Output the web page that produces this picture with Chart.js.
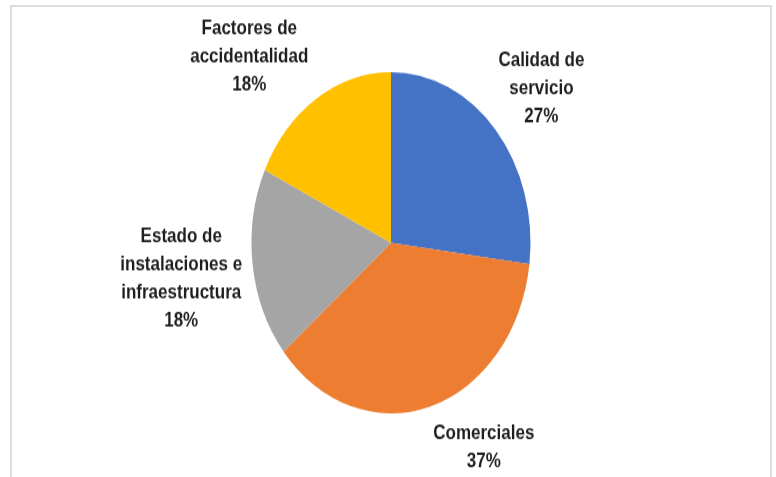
<!DOCTYPE html>
<html>
<head>
<meta charset="utf-8">
<script src="https://cdn.jsdelivr.net/npm/chart.js@4/dist/chart.umd.min.js"></script>
<style>
  html, body { margin: 0; padding: 0; background: #fff; }
  body { width: 776px; height: 477px; position: relative; overflow: hidden; }
  #frame { position: absolute; left: 10px; top: 5px; width: 762px; height: 474px; border: 2px solid #dcdcdc; box-sizing: border-box; }
  /* the source picture is stretched vertically, so the pie is an ellipse */
  #wrap { position: absolute; left: 0; top: 0; width: 776px; height: 390px; transform: scaleY(1.223); transform-origin: 0 0; }
</style>
</head>
<body>
<div id="frame"></div>
<div id="wrap"><canvas id="pie"></canvas></div>
<script>
const categories = [
  ['Calidad de', 'servicio'],
  ['Comerciales'],
  ['Estado de', 'instalaciones e', 'infraestructura'],
  ['Factores de', 'accidentalidad'],
];
const values = [27, 37, 18, 18];
const colors = ['#4472C4', '#ED7D31', '#A5A5A5', '#FFC000'];
// small manual shifts, like Excel labels dragged by hand
const labelNudge = [[6, -5], [37, 2], [-1, 5], [-30, 3]];

const LINE_H = 23;
const FONT = 'bold 17px "Liberation Sans Narrow", "Liberation Sans", sans-serif';

const outsideLabels = {
  id: 'outsideLabels',
  afterDatasetsDraw(chart) {
    const ctx = chart.ctx;
    const meta = chart.getDatasetMeta(0);
    const total = values.reduce((a, b) => a + b, 0);
    ctx.save();
    ctx.font = FONT;
    ctx.fillStyle = '#1f1f1f';
    ctx.textAlign = 'center';
    ctx.textBaseline = 'middle';
    meta.data.forEach((arc, i) => {
      const { x, y, startAngle, endAngle, outerRadius } = arc.getProps(['x', 'y', 'startAngle', 'endAngle', 'outerRadius'], true);
      const mid = (startAngle + endAngle) / 2;
      const lines = [...categories[i], Math.round(values[i] / total * 100) + '%'];
      const w = Math.max(...lines.map(l => ctx.measureText(l).width));
      const h = lines.length * LINE_H;
      const r = outerRadius + 10;
      const ax = x + r * Math.cos(mid);
      const ay = y + r * Math.sin(mid);
      const cx = ax + w / 2 * Math.cos(mid) + labelNudge[i][0];
      const cy = ay + h / 2 * Math.sin(mid) + labelNudge[i][1];
      lines.forEach((l, k) => {
        ctx.fillText(l, cx, cy - h / 2 + LINE_H / 2 + k * LINE_H);
      });
    });
    ctx.restore();
  },
};

new Chart(document.getElementById('pie'), {
  type: 'pie',
  data: {
    labels: categories,
    datasets: [{
      data: values,
      backgroundColor: colors,
      borderWidth: 0,
    }],
  },
  options: {
    responsive: true,
    maintainAspectRatio: false,
    animation: false,
    layout: { padding: { left: 6, right: 0, top: 59, bottom: 52 } },
    plugins: {
      legend: { display: false },
      tooltip: { enabled: false },
    },
  },
  plugins: [outsideLabels],
});
</script>
</body>
</html>
